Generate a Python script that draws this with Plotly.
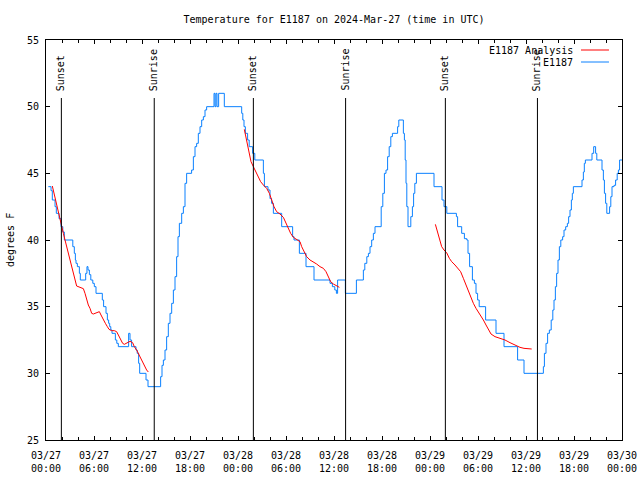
import pandas as pd
import plotly.graph_objects as go

START = pd.Timestamp("2024-03-27 00:00")

# Observed E1187 temperatures (hours since start, degrees F) - step changes
blue_hours = [0.29,0.63,0.79,1.13,1.29,1.63,1.88,2.1,2.29,3.35,3.54,3.67,3.75,3.92,4.17,4.29,4.96,5.12,5.25,5.42,5.6,5.85,6.04,6.25,
              7.04,7.2,7.5,7.67,7.83,7.96,8.1,8.25,8.67,8.85,9.04,10.33,10.5,10.7,11.25,11.4,11.58,11.71,12.5,12.75,
              14.33,14.5,14.67,14.875,15.08,15.29,15.5,15.71,15.92,16.125,16.33,16.5,16.67,16.96,17.17,17.375,17.58,18.2,18.42,18.625,
              18.83,19.04,19.25,19.46,19.67,19.875,20.08,21.0,21.125,21.25,21.375,21.58,22.29,24.46,24.6,24.75,24.92,25.2,25.4,25.83,
              26.1,27.17,27.3,27.75,28.0,28.2,28.42,29.46,30.83,31.0,31.67,32.5,33.5,35.5,35.8,36.1,36.3,36.45,37.42,38.8,39.67,39.85,
              40.1,40.3,40.5,40.71,40.92,41.125,41.9,42.1,42.3,42.5,42.7,42.9,43.1,43.3,43.95,44.1,44.67,44.8,44.9,45.0,45.1,45.25,
              45.6,45.8,45.95,46.1,46.3,48.5,49.5,49.75,50.1,51.3,51.45,51.96,52.3,52.6,52.75,52.95,53.3,53.55,53.75,53.95,54.15,
              54.95,56.25,57.25,58.95,59.75,62.17,62.3,62.5,62.7,62.92,63.15,63.35,63.5,63.67,63.83,64.0,64.17,64.35,64.58,64.75,
              64.96,65.17,65.33,65.5,65.67,65.79,65.92,67.0,67.17,67.29,67.42,68.25,68.46,68.7,68.85,69.5,69.67,69.8,69.95,70.1,
              70.45,70.6,70.75,71.0,71.2,71.4,71.55,71.7,72.0]
blue_temps = [44,43.7,43,42.5,42,41.6,41,40.6,40,39.5,39,38.5,38.25,38,37.5,37,37.5,38,37.75,37.4,37,36.75,36.5,36,
              35.5,35,34.5,34,33.75,33.5,33.25,33,32.5,32.25,32,33,32.5,32,31.75,31.5,30.75,30,29.5,29,
              29.75,30.6,31,31.75,32.75,33.75,34.5,35.25,36.25,37.25,38.75,40.25,41.25,42,42.5,44.25,45,45.25,46.25,47,
              47.25,48,48.5,49,49.25,49.75,50,51,50,51,50,51,50,49.5,49,48.5,48,47.5,47,46.5,
              46,45,44,43.75,43.1,42.75,42,41,40.25,40,39,38,37,36.75,36.5,36.25,36,37,36,37,37.75,38.25,
              38.75,39,39.5,40,40.5,41,42.5,43.5,45,45.25,46.25,47,47.75,48,48.5,49,48,47.5,46,44.25,42.5,41,
              41.75,42.5,43.5,44.25,45,44,43,42.5,42,41.75,41,40.5,40.1,40,39,38,37,36.75,36,35.5,35,
              34,33,32,31,30,30.5,31.5,32.25,33,33.25,34,34.75,35.5,36.5,37.5,38.5,39.5,40,40.25,40.75,
              41,41.25,41.75,42.25,43,43.5,44,44.5,45.1,45.75,46,46.5,47,46.5,46,45.25,44.5,43.5,42.75,42,
              42.5,43.25,44,44.1,44.5,45,45.25,46,46]

# E1187 Analysis (three overnight segments)
red1_hours = [0.79,1,1.25,1.54,1.75,1.96,2.17,2.375,2.58,2.79,3,3.21,3.42,3.625,3.83,4.25,4.67,4.875,5.08,5.29,
              5.5,5.71,5.92,6.33,6.67,6.875,7.17,7.42,7.67,7.875,8.2,8.54,8.83,9.04,9.33,9.58,9.79,10.08,10.5,10.83,
              11.04,11.33,11.625,11.96,12.29,12.58,12.79]
red1_temps = [44.05,43.5,42.75,42,41.375,41,40.5,40,39.5,39,38.625,38.125,37.625,37.125,36.55,36.45,36.35,36,35.5,35.125,
              34.875,34.5,34.45,34.55,34.625,34.375,34,33.75,33.5,33.3,33.2,33.2,33.125,32.875,32.5,32.25,32.175,32.25,32.4,32.3,
              32,31.75,31.375,31,30.625,30.25,30.1]
red2_hours = [24.79,25,25.21,25.42,25.625,25.92,26.25,26.54,26.83,27.17,27.58,27.92,28.2,28.5,28.83,29.25,29.67,30,30.29,
              30.58,30.92,31.33,31.75,31.96,32.25,32.58,33,33.42,33.83,34.25,34.67,35,35.29,35.58,35.92,36.33,36.67]
red2_temps = [48.3,47.625,47,46.375,45.875,45.5,45.125,44.75,44.375,44.125,43.875,43.5,43,42.5,42.125,41.95,41.7,41.25,40.875,
              40.5,40.2,40.05,39.875,39.5,39.125,38.75,38.5,38.375,38.2,38,37.875,37.625,37.25,36.875,36.7,36.55,36.45]
red3_hours = [48.67,48.92,49.17,49.46,49.75,50.08,50.42,50.71,51.125,51.54,51.83,52.17,52.5,52.79,53.08,53.42,53.75,54.04,
              54.33,54.67,55,55.29,55.625,56.125,56.75,57.375,58,58.625,59.25,59.75,60.29,60.71]
red3_temps = [41.175,40.625,40,39.5,39.25,39.05,38.625,38.375,38.125,37.875,37.625,37.125,36.625,36.125,35.625,35.25,34.875,
              34.625,34.375,34,33.625,33.25,32.95,32.75,32.625,32.5,32.3,32.125,31.95,31.875,31.825,31.825]

event_hours = [1.92, 13.53, 25.92, 37.45, 49.92, 61.43]
event_labels = ["Sunset", "Sunrise", "Sunset", "Sunrise", "Sunset", "Sunrise"]

title_text = "Temperature for E1187 on 2024-Mar-27 (time in UTC)"
y_title = "degrees F"
legend_names = ["E1187 Analysis", "E1187"]

BLUE = "#0a80ff"
RED = "#ff0000"
FONT = "DejaVu Sans Mono"


def to_time(hours):
    return [START + pd.Timedelta(hours=h) for h in hours]


fig = go.Figure()
fig.add_trace(go.Scatter(x=to_time(blue_hours), y=blue_temps, mode="lines",
                         line=dict(color=BLUE, width=1, shape="hv"), name=legend_names[1]))
for hh, tt in [(red1_hours, red1_temps), (red2_hours, red2_temps), (red3_hours, red3_temps)]:
    fig.add_trace(go.Scatter(x=to_time(hh), y=tt, mode="lines",
                             line=dict(color=RED, width=1), name=legend_names[0]))

# Sunset / sunrise markers
for h, lab in zip(event_hours, event_labels):
    t = START + pd.Timedelta(hours=h)
    fig.add_shape(type="line", xref="x", yref="paper", x0=t, x1=t, y0=0, y1=0.855,
                  line=dict(color="black", width=1))
    fig.add_annotation(x=t, xref="x", y=0.8675, yref="paper", text=lab, textangle=-90,
                       showarrow=False, xanchor="center", yanchor="bottom",
                       font=dict(family=FONT, size=10, color="black"))

# Gnuplot-style legend: text right aligned, sample line at right
for i, (name, col) in enumerate(zip(legend_names, [RED, BLUE])):
    yp = 0.975 - i * 0.03
    fig.add_annotation(x=0.918, xref="paper", y=yp, yref="paper", text=name, showarrow=False,
                       xanchor="right", yanchor="middle", font=dict(family=FONT, size=10, color="black"))
    fig.add_shape(type="line", xref="paper", yref="paper", x0=0.9288, x1=0.9774, y0=yp, y1=yp,
                  line=dict(color=col, width=1))

fig.add_annotation(x=-0.0625, xref="paper", y=0.5, yref="paper", text=y_title, textangle=-90,
                   showarrow=False, xanchor="center", yanchor="middle",
                   font=dict(family=FONT, size=10, color="black"))

fig.update_layout(
    width=640, height=480,
    margin=dict(l=46, r=18, t=40, b=40, autoexpand=False),
    paper_bgcolor="white", plot_bgcolor="white",
    showlegend=False,
    font=dict(family=FONT, size=10, color="black"),
    title=dict(text=title_text, x=0.5, xref="paper", y=1 - 19 / 480, yref="container",
               xanchor="center", yanchor="middle", font=dict(family=FONT, size=10, color="black")),
)
fig.update_xaxes(
    type="date", range=[START, START + pd.Timedelta(hours=72)], automargin=False,
    tick0=START, dtick=6 * 3600 * 1000, tickformat="%m/%d<br>%H:%M",
    ticks="inside", ticklen=4, tickcolor="black", showline=True, linecolor="black", linewidth=1,
    mirror="ticks", showgrid=False, zeroline=False, ticklabelstandoff=6,
    minor=dict(dtick=2 * 3600 * 1000, ticks="inside", ticklen=3, tickcolor="black", showgrid=False),
)
fig.update_yaxes(
    range=[25, 55], dtick=5, ticks="inside", ticklen=4, tickcolor="black", automargin=False,
    showline=True, linecolor="black", linewidth=1, mirror="ticks",
    showgrid=False, zeroline=False, ticklabelstandoff=4,
)

fig.write_html("out.html", config={"displayModeBar": False},
               post_script="document.body.style.margin='0px';document.body.style.overflow='hidden';")
